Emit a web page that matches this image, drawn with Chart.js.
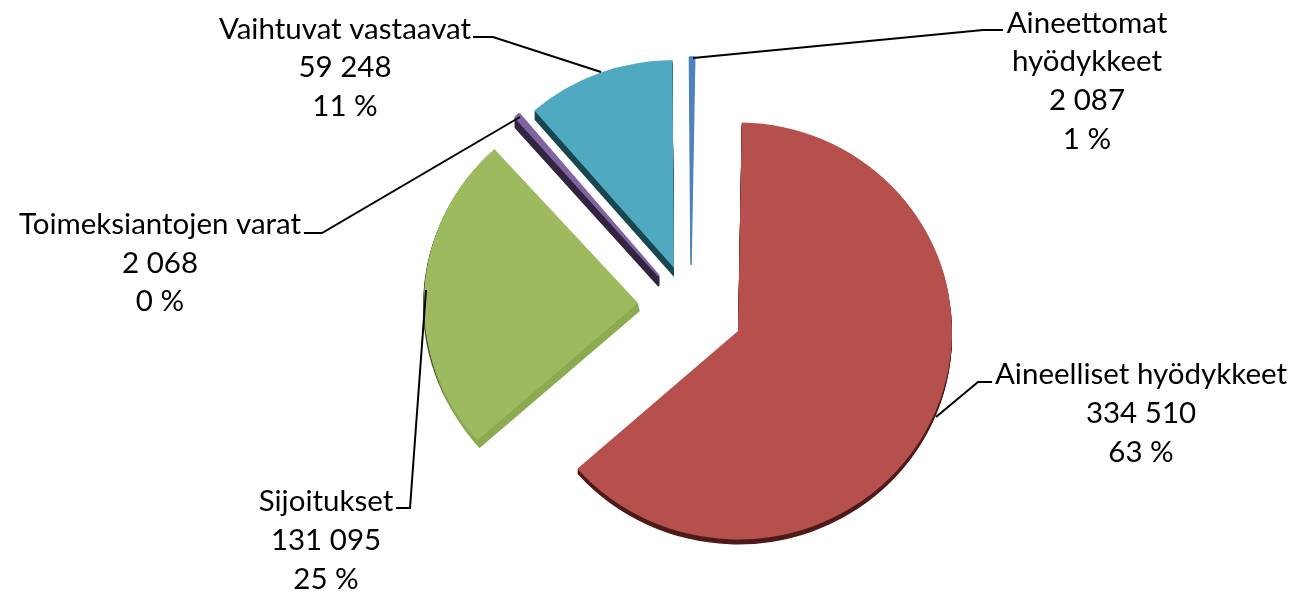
<!DOCTYPE html>
<html><head><meta charset="utf-8">
<style>html,body{margin:0;padding:0;background:#fff}#w{width:1295px;height:594px}</style>
<script src="https://cdn.jsdelivr.net/npm/chart.js@4"></script></head>
<body><div id="w"><canvas id="c"></canvas></div>
<script>
const categories = ['Aineelliset hyödykkeet','Sijoitukset','Toimeksiantojen varat','Vaihtuvat vastaavat','Aineettomat hyödykkeet'];
const values = [334510,131095,2068,59248,2087];
const valueLabels = ['334 510','131 095','2 068','59 248','2 087'];
const percentLabels = ['63 %','25 %','0 %','11 %','1 %'];
const colors = ['#B5504D','#9DBA5F','#8064A2','#4EA9C1','#4F81BD'];
const edgeWidths = [0,0,2,0,1.5];
// exploded placement of each slice and its vertical foreshortening
const explodeX = [55,-45,-24,-9,8];
const explodeY = [26,-2,-29,-37,-40];
const squash = [0.974,0.97,1,0.972,0.972];
// side-wall sweeps per slice, back to front: [dx, dy, colour]
const walls = [
  [[0,5,'#4D1A1A']],
  [[-1,3,'#4F5A30'],[2,8,'#8CAB50']],
  [[0,10,'#33243F']],
  [[0,9,'#1A4650']],
  []
];
const FONT = '29.5px Lato';
const labelLayout = [
  {x:1141,y:[374,413,452],name:['Aineelliset hyödykkeet'],line:[[936,417],[978,382],[992,382]]},
  {x:326,y:[501,540,579],name:['Sijoitukset'],line:[[426,290],[410,508],[396,508]]},
  {x:160,y:[224,263,301],name:['Toimeksiantojen varat'],line:[[304,233],[322,233],[520,117]]},
  {x:345,y:[29,67,106],name:['Vaihtuvat vastaavat'],line:[[473,37],[493,37],[601,72]]},
  {x:1087,y:[23,61,100,139],name:['Aineettomat','hyödykkeet'],line:[[693,58],[983,30],[1003,30]]}
];
function paint(ctx, arc, i, dx, dy, col){
  const orig = arc.options;
  const o = Object.create(orig);
  if (col) {
    Object.defineProperty(o,'backgroundColor',{value:col});
    Object.defineProperty(o,'borderColor',{value:col});
  }
  ctx.save();
  ctx.translate(arc.x + explodeX[i] + dx, arc.y + explodeY[i] + dy);
  ctx.scale(1, squash[i]);
  ctx.translate(-arc.x, -arc.y);
  arc.options = o; arc.draw(ctx); arc.options = orig;
  ctx.restore();
}
const pie3d = {
  id:'pie3d',
  beforeDatasetsDraw(chart){
    const ctx = chart.ctx, arcs = chart.getDatasetMeta(0).data;
    arcs.forEach((arc,i)=>{
      walls[i].forEach(([dx,dy,col])=>{
        const n = Math.max(Math.abs(dx),Math.abs(dy));
        for (let k=1;k<=n;k++) paint(ctx,arc,i,dx*k/n,dy*k/n,col);
      });
      paint(ctx,arc,i,0,0,null);
    });
    return false;
  },
  afterDraw(chart){
    const ctx = chart.ctx;
    ctx.save();
    ctx.strokeStyle='#000'; ctx.lineWidth=2; ctx.lineJoin='miter';
    labelLayout.forEach(l=>{
      ctx.beginPath();
      l.line.forEach((p,i)=> i? ctx.lineTo(p[0],p[1]) : ctx.moveTo(p[0],p[1]));
      ctx.stroke();
    });
    ctx.fillStyle='#000'; ctx.font=FONT; ctx.textAlign='center'; ctx.textBaseline='middle';
    labelLayout.forEach((l,i)=>{
      const lines = l.name.concat([valueLabels[i],percentLabels[i]]);
      lines.forEach((t,j)=>ctx.fillText(t,l.x,l.y[j]));
    });
    ctx.restore();
  }
};
new Chart(document.getElementById('c'),{
  type:'pie',
  data:{labels:categories,datasets:[{data:values,backgroundColor:colors,borderColor:colors,borderWidth:edgeWidths,hoverOffset:0}]},
  options:{responsive:true,maintainAspectRatio:false,animation:false,rotation:1,radius:214,
    layout:{padding:{left:71,top:16,right:0,bottom:0}},
    plugins:{legend:{display:false},tooltip:{enabled:false}}},
  plugins:[pie3d]
});
</script></body></html>
